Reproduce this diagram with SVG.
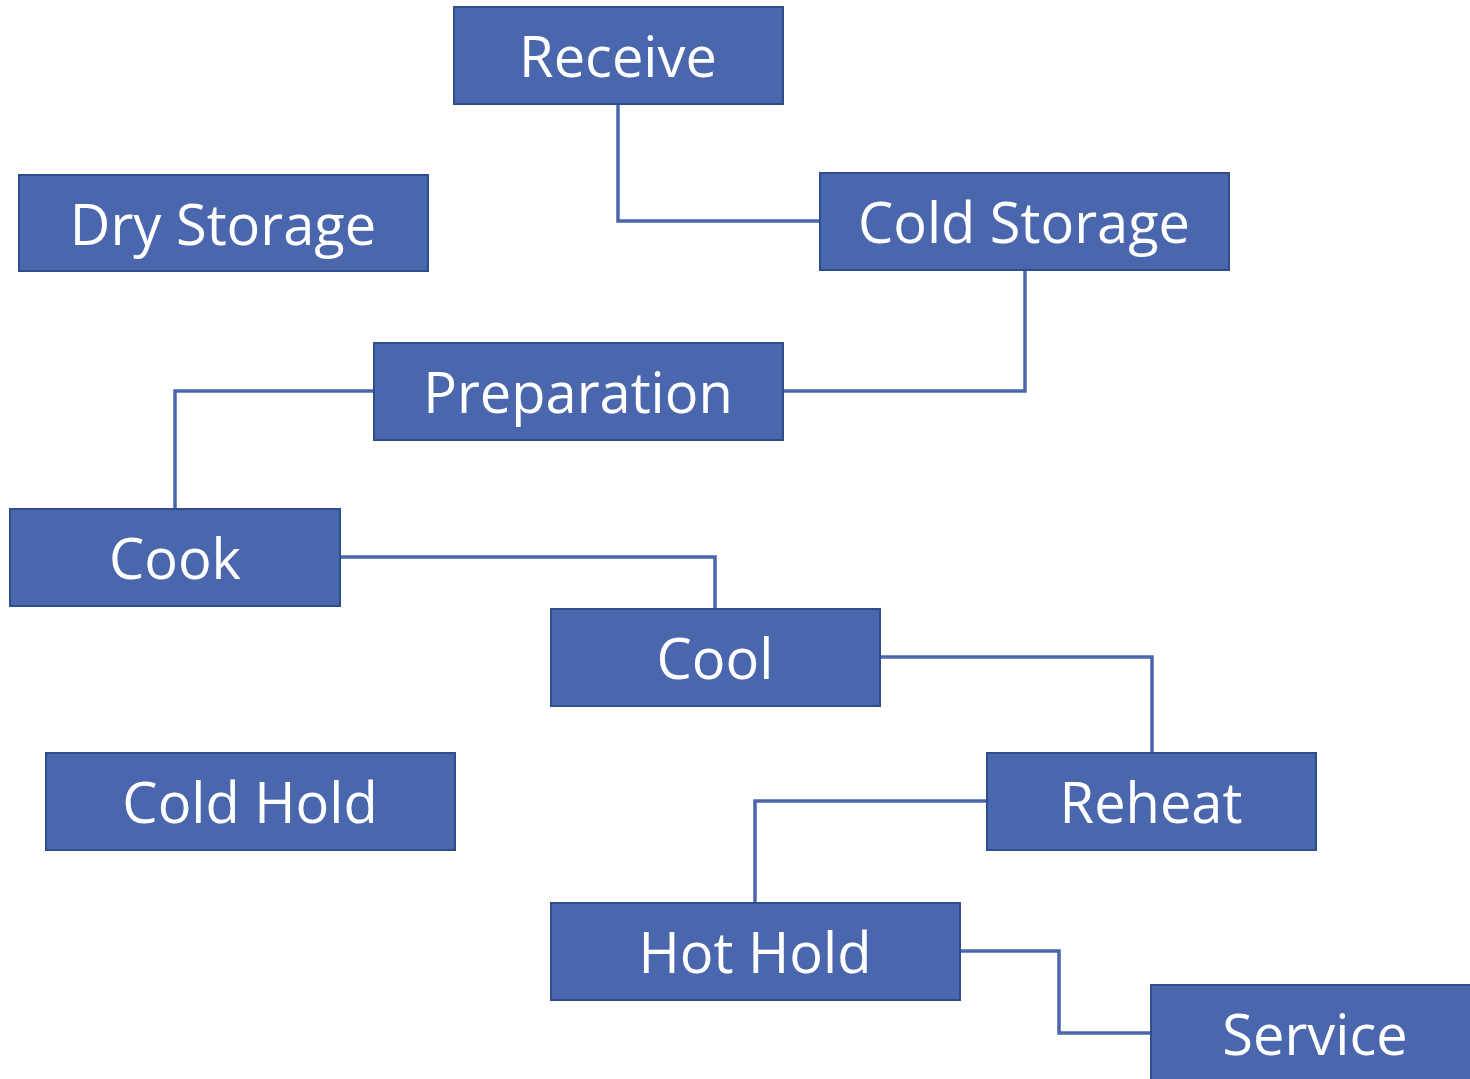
<svg xmlns="http://www.w3.org/2000/svg" width="1470" height="1079" viewBox="0 0 1470 1079">
<style>
.box{fill:#4A67AE;stroke:#2F4D8C;stroke-width:2}
.lbl{font-family:"Open Sans","Noto Sans",sans-serif;font-size:56px;fill:#FFFFFF;text-anchor:middle}
.con{fill:none;stroke:#4A67AE;stroke-width:3.5}
</style>
<rect width="1470" height="1079" fill="#FFFFFF"/>
<g id="connectors">
<polyline class="con" points="618,104 618,221 820,221"/>
<polyline class="con" points="1025,270 1025,391 783,391"/>
<polyline class="con" points="374,391 175,391 175,509"/>
<polyline class="con" points="340,557 715,557 715,609"/>
<polyline class="con" points="880,657 1152,657 1152,753"/>
<polyline class="con" points="987,801 755,801 755,903"/>
<polyline class="con" points="960,951 1059,951 1059,1033 1151,1033"/>
</g>
<g id="receive"><rect class="box" x="454" y="7" width="329" height="97"/><text class="lbl" x="618" y="77">Receive</text></g>
<g id="dry-storage"><rect class="box" x="19" y="175" width="409" height="96"/><text class="lbl" x="223" y="245">Dry Storage</text></g>
<g id="cold-storage"><rect class="box" x="820" y="173" width="409" height="97"/><text class="lbl" x="1024" y="243">Cold Storage</text></g>
<g id="preparation"><rect class="box" x="374" y="343" width="409" height="97"/><text class="lbl" x="578" y="413">Preparation</text></g>
<g id="cook"><rect class="box" x="10" y="509" width="330" height="97"/><text class="lbl" x="175" y="579">Cook</text></g>
<g id="cool"><rect class="box" x="551" y="609" width="329" height="97"/><text class="lbl" x="715" y="679">Cool</text></g>
<g id="cold-hold"><rect class="box" x="46" y="753" width="409" height="97"/><text class="lbl" x="250" y="823">Cold Hold</text></g>
<g id="reheat"><rect class="box" x="987" y="753" width="329" height="97"/><text class="lbl" x="1151" y="823">Reheat</text></g>
<g id="hot-hold"><rect class="box" x="551" y="903" width="409" height="97"/><text class="lbl" x="755" y="973">Hot Hold</text></g>
<g id="service"><rect class="box" x="1151" y="985" width="330" height="100"/><text class="lbl" x="1315" y="1055">Service</text></g>
</svg>
